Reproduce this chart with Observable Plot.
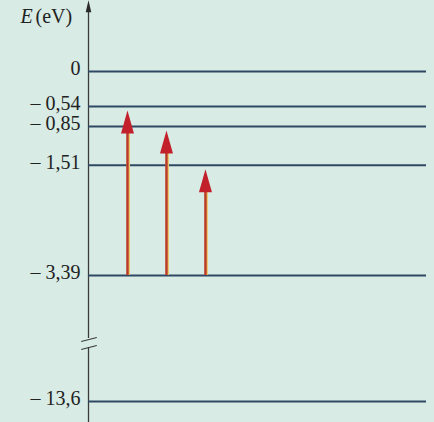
<!DOCTYPE html>
<html><head><meta charset="utf-8">
<script src="https://cdn.jsdelivr.net/npm/d3@7"></script>
<script src="https://cdn.jsdelivr.net/npm/@observablehq/plot@0.6"></script>
<style>
html,body{margin:0;padding:0;background:#d8ebe5;}
</style></head><body><div id="chart"></div>
<script>
// Energy levels (eV) and their labels
const levels = [0, -0.54, -0.85, -1.51, -3.39, -13.6];
const levelLabels = ["0", "– 0,54", "– 0,85", "– 1,51", "– 3,39", "– 13,6"];
// Transitions (absorption arrows)
const transitionSlot = [1, 2, 3];
const transitionFrom = [-3.39, -3.39, -3.39];
const transitionTo = [-0.54, -0.85, -1.51];
// Axis break location and axis extent (eV)
const breakValue = -8.86;
const axisTop = 1.1;
const axisBottom = -15.5;
const levelEnd = 8.67;

const bg = "#d8ebe5";
const transitions = transitionSlot.map((s, i) => ({slot: s, from: transitionFrom[i], to: transitionTo[i]}));
const levelData = levels.map((v, i) => ({v, label: levelLabels[i]}));

const arrowHead = {draw(ctx) { ctx.moveTo(0, 0); ctx.lineTo(6.5, 23); ctx.lineTo(-6.5, 23); ctx.closePath(); }};
const axisHead = {draw(ctx) { ctx.moveTo(0, 0); ctx.lineTo(2.8, 12); ctx.lineTo(-2.8, 12); ctx.closePath(); }};
const breakGap = {draw(ctx) { ctx.moveTo(-2.5, -5); ctx.lineTo(2.5, -5); ctx.lineTo(2.5, 4); ctx.lineTo(-2.5, 4); ctx.closePath(); }};
const breakSlashes = {draw(ctx) {
  ctx.moveTo(-7.3, -1.5); ctx.lineTo(8.3, -5.5);
  ctx.moveTo(-7.3, 6.5); ctx.lineTo(8.3, 2.5);
}};

const chart = Plot.plot({
  width: 434,
  height: 422,
  marginLeft: 88, marginRight: 8, marginTop: 0, marginBottom: 0,
  style: {background: bg, fontFamily: "Liberation Serif, serif", fontSize: "20px", color: "#222"},
  x: {type: "linear", domain: [0, levelEnd], range: [88, 426], axis: null},
  // piecewise scale: the diagram is not drawn strictly to scale (axis break)
  y: {type: "linear", domain: [-13.6, -3.39, -0.85, 0], range: [401, 275, 126, 71], axis: null},
  marks: [
    // vertical axis
    Plot.ruleX([0], {x: 0, y1: axisTop, y2: axisBottom, stroke: "#3a3a3a", strokeWidth: 1.3, insetTop: 8}),
    Plot.dot([0], {x: 0, y: axisTop, symbol: axisHead, fill: "#2a2a2a", stroke: "none"}),
    // axis break
    Plot.dot([0], {x: 0, y: breakValue, symbol: breakGap, fill: bg, stroke: "none"}),
    Plot.dot([0], {x: 0, y: breakValue, symbol: breakSlashes, fill: "none", stroke: "#3a3a3a", strokeWidth: 1.2}),
    // energy levels
    Plot.ruleY(levelData, {y: "v", x1: 0, x2: levelEnd, stroke: "#2f4864", strokeWidth: 2}),
    Plot.text(levelData, {x: 0, y: "v", text: "label", textAnchor: "end", dx: -8, dy: -3, fontSize: 20, fill: "#222"}),
    // axis title
    Plot.text(["E"], {frameAnchor: "top-left", lineAnchor: "middle", text: d => d, textAnchor: "start", dx: -68, dy: 16, fontSize: 20, fontStyle: "italic", fill: "#222"}),
    Plot.text(["(eV)"], {frameAnchor: "top-left", lineAnchor: "middle", text: d => d, textAnchor: "start", dx: -53, dy: 16, fontSize: 20, fill: "#222"}),
    // transition arrows
    Plot.ruleX(transitions, {x: "slot", y1: "to", y2: "from", stroke: "#ecc56a", strokeWidth: 3.4, dx: 0.8, insetTop: 14}),
    Plot.ruleX(transitions, {x: "slot", y1: "to", y2: "from", stroke: "#b8392b", strokeWidth: 2.4, insetTop: 14}),
    Plot.dot(transitions, {x: "slot", y: "to", symbol: arrowHead, fill: "#c2202b", stroke: "none", dy: 4})
  ]
});
document.getElementById("chart").appendChild(chart);
</script>
</body></html>
